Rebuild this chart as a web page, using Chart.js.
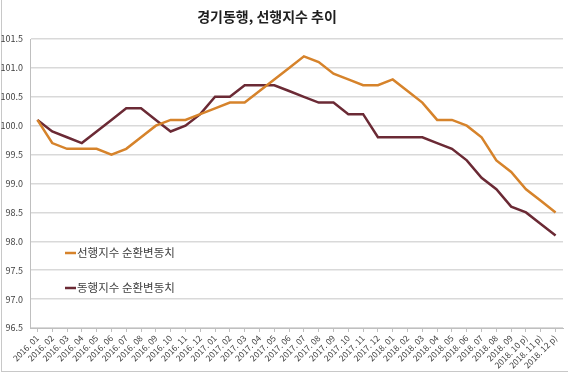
<!DOCTYPE html>
<html>
<head>
<meta charset="utf-8">
<script src="https://cdn.jsdelivr.net/npm/chart.js@4/dist/chart.umd.min.js"></script>
<style>
  html, body { margin: 0; padding: 0; background: #fff; }
  #wrap { position: relative; width: 568px; height: 377px; }
  #frame { position: absolute; left: 1px; top: 0; width: 575px; height: 371px;
           border-left: 1px solid #c8c8c8; border-bottom: 1px solid #c8c8c8; }
  canvas { position: absolute; left: 0; top: 0; }
</style>
</head>
<body>
<div id="wrap">
  <div id="frame"></div>
  <canvas id="chart" width="568" height="377"></canvas>
</div>
<script>
// chart data
const title = '경기동행, 선행지수 추이';
const months = [
  '2016. 01','2016. 02','2016. 03','2016. 04','2016. 05','2016. 06',
  '2016. 07','2016. 08','2016. 09','2016. 10','2016. 11','2016. 12',
  '2017. 01','2017. 02','2017. 03','2017. 04','2017. 05','2017. 06',
  '2017. 07','2017. 08','2017. 09','2017. 10','2017. 11','2017. 12',
  '2018. 01','2018. 02','2018. 03','2018. 04','2018. 05','2018. 06',
  '2018. 07','2018. 08','2018. 09','2018. 10 p)','2018. 11 p)','2018. 12 p)'
];
const leadingIndex = [
  100.1, 99.7, 99.6, 99.6, 99.6, 99.5, 99.6, 99.8, 100.0, 100.1, 100.1, 100.2,
  100.3, 100.4, 100.4, 100.6, 100.8, 101.0, 101.2, 101.1, 100.9, 100.8, 100.7, 100.7,
  100.8, 100.6, 100.4, 100.1, 100.1, 100.0, 99.8, 99.4, 99.2, 98.9, 98.7, 98.5
];
const coincidentIndex = [
  100.1, 99.9, 99.8, 99.7, 99.9, 100.1, 100.3, 100.3, 100.1, 99.9, 100.0, 100.2,
  100.5, 100.5, 100.7, 100.7, 100.7, 100.6, 100.5, 100.4, 100.4, 100.2, 100.2, 99.8,
  99.8, 99.8, 99.8, 99.7, 99.6, 99.4, 99.1, 98.9, 98.6, 98.5, 98.3, 98.1
];
const seriesNames = ['선행지수 순환변동치', '동행지수 순환변동치'];
const yMin = 96.5, yMax = 101.5, yStep = 0.5;

const FONT = '"Noto Sans CJK KR", "Noto Sans", sans-serif';

// title sits a bit left of centre in the source, so draw it by hand
const chartTitle = {
  id: 'chartTitle',
  afterDraw(chart) {
    const ctx = chart.ctx;
    ctx.save();
    ctx.fillStyle = '#1e1e1e';
    ctx.font = 'bold 14px ' + FONT;
    ctx.textAlign = 'center';
    ctx.textBaseline = 'middle';
    ctx.fillText(title, 267, 17);
    ctx.restore();
  }
};

// legend drawn inside the plot area, like the source
const innerLegend = {
  id: 'innerLegend',
  afterDraw(chart) {
    const ctx = chart.ctx;
    const ys = [253, 288];
    ctx.save();
    chart.data.datasets.forEach((ds, i) => {
      const y = ys[i];
      ctx.strokeStyle = ds.borderColor;
      ctx.lineWidth = 2.5;
      ctx.beginPath();
      ctx.moveTo(65, y);
      ctx.lineTo(76, y);
      ctx.stroke();
      ctx.fillStyle = '#404040';
      ctx.font = '11.5px ' + FONT;
      ctx.textBaseline = 'middle';
      ctx.fillText(ds.label, 77, y);
    });
    ctx.restore();
  }
};

new Chart(document.getElementById('chart').getContext('2d'), {
  type: 'line',
  data: {
    labels: months,
    datasets: [
      { label: seriesNames[0], data: leadingIndex, borderColor: '#d6832b',
        borderWidth: 2.5, pointRadius: 0, tension: 0 },
      { label: seriesNames[1], data: coincidentIndex, borderColor: '#6b2a35',
        borderWidth: 2.5, pointRadius: 0, tension: 0 }
    ]
  },
  options: {
    responsive: false,
    animation: false,
    layout: { padding: { top: 39, right: 5, bottom: 4, left: 0 } },
    plugins: {
      legend: { display: false },
      tooltip: { enabled: false },
      title: { display: false }
    },
    scales: {
      x: {
        offset: true,
        grid: { display: true, drawOnChartArea: false, drawTicks: true, tickLength: 4, color: '#bfbfbf' },
        border: { color: '#bfbfbf' },
        ticks: { autoSkip: false, maxRotation: 45, minRotation: 45, padding: 1,
                 color: '#404040', font: { family: FONT, size: 8.5 } },
        afterFit(scale) { scale.height = 45; }
      },
      y: {
        min: yMin, max: yMax,
        grid: { color: '#d9d9d9', lineWidth: 1.5, drawTicks: false },
        border: { color: '#bfbfbf' },
        ticks: { stepSize: yStep, padding: 7, color: '#404040',
                 font: { family: FONT, size: 9 },
                 callback: v => v.toFixed(1) },
        afterFit(scale) { scale.width = 30; }
      }
    }
  },
  plugins: [chartTitle, innerLegend]
});
</script>
</body>
</html>
